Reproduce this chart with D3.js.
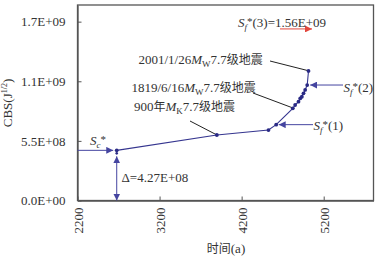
<!DOCTYPE html>
<html><head><meta charset="utf-8">
<script src="https://cdn.jsdelivr.net/npm/d3@7"></script>
<style>
html,body{margin:0;padding:0;background:#fff;}
text{font-family:"Liberation Serif","Times New Roman",serif;fill:#333;}
.cjk{font-family:"Noto Sans CJK SC",sans-serif;}
</style></head>
<body><svg id="c" width="384" height="257"></svg>
<script>
// data
const times  = [2678, 3898, 4527, 4621, 4824, 4852, 4893, 4914, 4934, 4954, 4974, 4999, 5015];
const values = [4.67e8, 6.10e8, 6.56e8, 7.06e8, 8.58e8, 8.89e8, 9.20e8, 9.50e8, 9.66e8, 9.98e8, 10.29e8, 10.75e8, 12.06e8];
const xTicks = [2200, 3200, 4200, 5200];
const yTickValues = [0, 5.55e8, 1.11e9, 1.665e9];
const yTickLabels = ["0.0E+00", "5.5E+08", "1.1E+09", "1.7E+09"];
const scValue = 4.67e8, scTime = 2678;
const sf1 = {t: 4621, v: 7.06e8};
const sf2 = {t: 4999, v: 10.75e8};
const sf3Value = 1.56e9;

const svg = d3.select("#c");
const L = 77.5, R = 373.5, T = 5, B = 200.5;
const x = d3.scaleLinear().domain([2200, 5807]).range([L, R]);
const y = d3.scaleLinear().domain([0, 1.82e9]).range([B, T]);

const blue = "#35358f", arrowBlue = "#4545a0";

// defs arrowheads
const defs = svg.append("defs");
function marker(id, color){
  defs.append("marker").attr("id", id).attr("viewBox","0 0 10 10").attr("refX",10).attr("refY",5)
    .attr("markerWidth",7).attr("markerHeight",7).attr("markerUnits","userSpaceOnUse").attr("orient","auto-start-reverse")
    .append("path").attr("d","M0,0L10,5L0,10Z").attr("fill",color);
}
marker("ab", arrowBlue); marker("ar", "#e2473d");

// frame
svg.append("rect").attr("x",L).attr("y",T).attr("width",R-L).attr("height",B-T)
  .attr("fill","none").attr("stroke","#555").attr("stroke-width",1.3);

// axes
const xAxis = d3.axisBottom(x).tickValues(xTicks).tickSizeInner(-4).tickSizeOuter(0).tickFormat(d3.format("d"));
const gx = svg.append("g").attr("transform",`translate(0,${B})`).call(xAxis);
gx.select(".domain").attr("stroke","#555").attr("stroke-width",1.3);
gx.selectAll(".tick line").attr("stroke","#555");
gx.selectAll(".tick text").attr("font-size",13).attr("font-family","Liberation Serif").attr("fill","#333")
  .attr("transform","rotate(-90)").attr("text-anchor","end").attr("x",-7).attr("y",0).attr("dy","0.35em");

const yAxis = d3.axisLeft(y).tickValues(yTickValues).tickSizeInner(-4).tickSizeOuter(0)
  .tickFormat((d,i)=>yTickLabels[i]);
const gy = svg.append("g").attr("transform",`translate(${L},0)`).call(yAxis);
gy.select(".domain").attr("stroke","#555").attr("stroke-width",1.3);
gy.selectAll(".tick line").attr("stroke","#555");
gy.selectAll(".tick text").attr("font-size",13).attr("font-family","Liberation Serif").attr("fill","#333").attr("x",-12);

// axis titles
const yt = svg.append("text").attr("transform",`translate(12,103) rotate(-90)`).attr("text-anchor","middle").attr("font-size",13);
yt.append("tspan").text("CBS(J");
yt.append("tspan").attr("font-size",8).attr("dy",-5).text("1/2");
yt.append("tspan").attr("dy",5).text(")");
svg.append("text").attr("x",226).attr("y",252.5).attr("text-anchor","middle").attr("font-size",13)
  .html('<tspan class="cjk" font-size="12">时间</tspan>(a)');

// leader lines
const lead = [[270,61,307.5,70.5],[253,93,293,108],[190,121,216,134.5]];
svg.selectAll(".lead").data(lead).join("line").attr("x1",d=>d[0]).attr("y1",d=>d[1]).attr("x2",d=>d[2]).attr("y2",d=>d[3])
  .attr("stroke","#222").attr("stroke-width",1);

// curve
const pts = times.map((t,i)=>[t, values[i]]);
svg.append("path").datum(pts).attr("d", d3.line().x(d=>x(d[0])).y(d=>y(d[1])))
  .attr("fill","none").attr("stroke",blue).attr("stroke-width",1.1);
svg.selectAll(".pt").data(pts).join("circle").attr("cx",d=>x(d[0])).attr("cy",d=>y(d[1])).attr("r",1.9).attr("fill","#2a2a85");

// Sc arrow
svg.append("line").attr("x1",L).attr("x2",x(scTime)-3.5).attr("y1",y(scValue)).attr("y2",y(scValue))
  .attr("stroke",arrowBlue).attr("stroke-width",1).attr("marker-end","url(#ab)");
svg.append("circle").attr("cx",x(scTime)).attr("cy",y(scValue)+3).attr("r",1.3).attr("fill","#2a2a85");
// Delta arrow
svg.append("line").attr("x1",x(scTime)).attr("x2",x(scTime)).attr("y1",y(scValue)+6).attr("y2",B)
  .attr("stroke",arrowBlue).attr("stroke-width",1).attr("marker-start","url(#ab)").attr("marker-end","url(#ab)");

// Sf arrows
svg.append("line").attr("x1",313).attr("x2",x(sf1.t)+2.5).attr("y1",y(sf1.v)).attr("y2",y(sf1.v))
  .attr("stroke",arrowBlue).attr("stroke-width",1).attr("marker-end","url(#ab)");
svg.append("line").attr("x1",343).attr("x2",x(sf2.t)+3).attr("y1",y(sf2.v)).attr("y2",y(sf2.v))
  .attr("stroke",arrowBlue).attr("stroke-width",1).attr("marker-end","url(#ab)");
svg.append("line").attr("x1",280).attr("x2",312).attr("y1",y(sf3Value)-4).attr("y2",y(sf3Value)-4)
  .attr("stroke","#e2473d").attr("stroke-width",1).attr("marker-end","url(#ar)");

// labels
function sLabel(xp, yp, sub, rest){
  const t = svg.append("text").attr("x",xp).attr("y",yp).attr("font-size",13);
  t.append("tspan").attr("font-style","italic").text("S");
  t.append("tspan").attr("font-style","italic").attr("font-size",9).attr("dy",3).text(sub);
  t.append("tspan").attr("font-size",11).attr("dy",-5).text("*");
  t.append("tspan").attr("dy",2).text(rest);
  return t;
}
sLabel(90, 145, "c", "");
sLabel(238, 27, "f", "(3)=1.56E+09");
sLabel(343.5, 91.5, "f", "(2)");
sLabel(313.5, 130, "f", "(1)");

svg.append("text").attr("x",121.5).attr("y",181.5).attr("font-size",13).text("Δ=4.27E+08");

function quake(xp, yp, pre, sub, mag){
  const t = svg.append("text").attr("x",xp).attr("y",yp).attr("font-size",13);
  t.append("tspan").text(pre.replace("年",""));
  if (pre.includes("年")) t.append("tspan").attr("class","cjk").attr("font-size",12).text("年");
  t.append("tspan").attr("font-style","italic").text("M");
  t.append("tspan").attr("font-size",9).attr("dy",3).text(sub);
  t.append("tspan").attr("dy",-3).text(mag);
  t.append("tspan").attr("class","cjk").attr("font-size",12).text("级地震");
}
quake(138.5, 64, "2001/1/26", "W", "7.7");
quake(131.5, 92, "1819/6/16", "W", "7.7");
quake(134, 111, "900年", "K", "7.7");
</script></body></html>
